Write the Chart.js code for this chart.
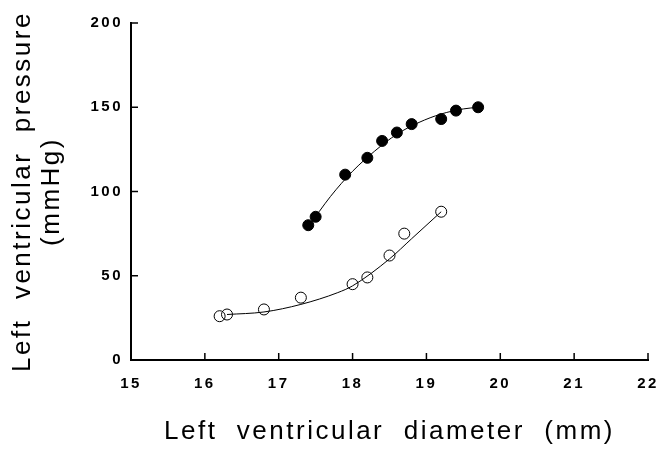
<!DOCTYPE html>
<html lang="en">
<head>
  <meta charset="UTF-8">
  <title>LV pressure vs diameter</title>
  <script src="https://cdn.jsdelivr.net/npm/chart.js"></script>
  <style>
    body { margin: 0; background: #fff; }
    #wrap { width: 658px; height: 452px; }
  </style>
</head>
<body>
  <div id="wrap"><canvas id="lvChart" width="658" height="452"></canvas></div>
  <script>
    // measured points (filled = one condition, open = the other)
    const filledX = [17.4, 17.5, 17.9, 18.2, 18.4, 18.6, 18.8, 19.2, 19.4, 19.7];
    const filledY = [80, 85, 110, 120, 130, 135, 140, 143, 148, 150];
    const openX = [16.2, 16.3, 16.8, 17.3, 18.0, 18.2, 18.5, 18.7, 19.2];
    const openY = [26, 27, 30, 37, 45, 49, 62, 75, 88];

    // fitted curves
    const filledFitX = [17.4, 17.7, 18.0, 18.3, 18.6, 18.9, 19.2, 19.5, 19.7];
    const filledFitY = [79, 97, 112, 124, 134, 141, 146, 149, 150];
    const openFitX = [16.3, 16.8, 17.3, 17.8, 18.0, 18.5, 18.8, 19.2];
    const openFitY = [27, 28.5, 33, 40, 44, 60, 72, 88];

    const xTicks = [15, 16, 17, 18, 19, 20, 21, 22];
    const yTicks = [0, 50, 100, 150, 200];

    const pts = (xs, ys) => xs.map((x, i) => ({ x: x, y: ys[i] }));

    // the scanned figure has widely spaced lettering
    const spacing = {
      id: 'spacing',
      beforeUpdate(chart) { chart.ctx.letterSpacing = '2.5px'; },
      beforeDraw(chart) { chart.ctx.letterSpacing = '2.5px'; }
    };

    // small tick marks drawn inward, like the original figure
    const innerTicks = {
      id: 'innerTicks',
      afterDraw(chart) {
        const c = chart.ctx, xs = chart.scales.x, ys = chart.scales.y;
        c.save();
        c.strokeStyle = '#000';
        c.lineWidth = 1.5;
        xTicks.slice(1).forEach(v => {
          const px = xs.getPixelForValue(v);
          c.beginPath(); c.moveTo(px, ys.bottom); c.lineTo(px, ys.bottom - 7); c.stroke();
        });
        yTicks.slice(1).forEach(v => {
          const py = ys.getPixelForValue(v);
          c.beginPath(); c.moveTo(xs.left, py); c.lineTo(xs.left + 7, py); c.stroke();
        });
        c.restore();
      }
    };

    new Chart(document.getElementById('lvChart'), {
      type: 'scatter',
      data: {
        datasets: [
          {
            data: pts(filledFitX, filledFitY), showLine: true, borderColor: '#000',
            borderWidth: 1, pointRadius: 0, tension: 0.4, cubicInterpolationMode: 'monotone', fill: false
          },
          {
            data: pts(openFitX, openFitY), showLine: true, borderColor: '#000',
            borderWidth: 1, pointRadius: 0, tension: 0.4, cubicInterpolationMode: 'monotone', fill: false
          },
          {
            data: pts(filledX, filledY), pointRadius: 5.5, pointBackgroundColor: '#000',
            pointBorderColor: '#000', pointBorderWidth: 1
          },
          {
            data: pts(openX, openY), pointRadius: 5.5, pointBackgroundColor: 'rgba(255,255,255,0)',
            pointBorderColor: '#000', pointBorderWidth: 1
          }
        ]
      },
      options: {
        responsive: false,
        animation: false,
        layout: { padding: { top: 23, right: 10, left: 0, bottom: 0 } },
        plugins: { legend: { display: false }, tooltip: { enabled: false } },
        scales: {
          x: {
            type: 'linear', min: 15, max: 22,
            afterBuildTicks: s => { s.ticks = xTicks.map(v => ({ value: v })); },
            afterFit: s => { s.height = 92; s.paddingLeft = 0; s.paddingRight = 0; },
            grid: { display: false, drawTicks: false },
            border: { color: '#000', width: 2 },
            ticks: {
              color: '#000', padding: 15, maxRotation: 0,
              font: { family: 'Liberation Sans', size: 15, weight: 'bold' }
            },
            title: {
              display: true, text: 'Left  ventricular  diameter  (mm)', color: '#000',
              font: { family: 'Liberation Sans', size: 26, lineHeight: 1.1 },
              padding: { top: 0, bottom: 6 }
            }
          },
          y: {
            type: 'linear', min: 0, max: 200,
            afterBuildTicks: s => { s.ticks = yTicks.map(v => ({ value: v })); },
            afterFit: s => { s.width = 131; },
            grid: { display: false, drawTicks: false },
            border: { color: '#000', width: 2 },
            ticks: {
              color: '#000', padding: 8,
              font: { family: 'Liberation Sans', size: 15, weight: 'bold' }
            },
            title: {
              display: true, text: ['Left  ventricular  pressure', '(mmHg)'], color: '#000',
              font: { family: 'Liberation Sans', size: 26, lineHeight: 1.1 },
              padding: { top: 9, bottom: 0 }
            }
          }
        }
      },
      plugins: [spacing, innerTicks]
    });
  </script>
</body>
</html>
